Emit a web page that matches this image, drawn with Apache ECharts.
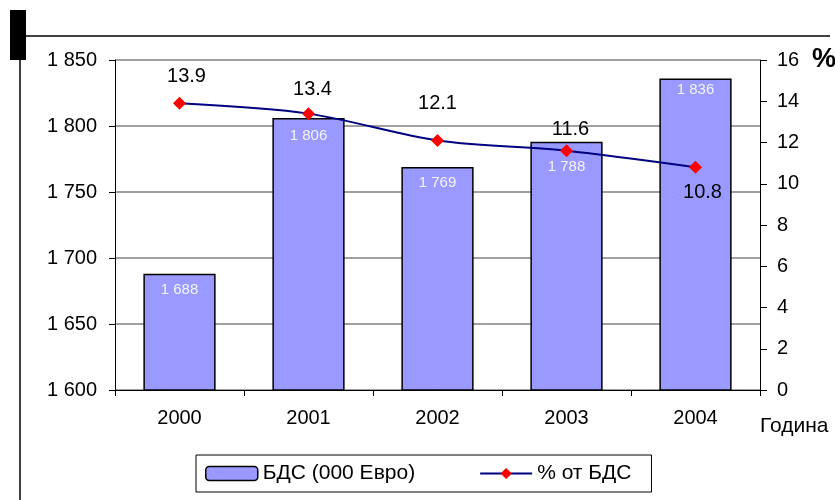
<!DOCTYPE html>
<html>
<head>
<meta charset="utf-8">
<script src="https://cdn.jsdelivr.net/npm/echarts@6/dist/echarts.min.js"></script>
<style>
html,body{margin:0;padding:0;background:#fff;}
#chart{width:835px;height:500px;}
</style>
</head>
<body>
<div id="chart"></div>
<script>
// Data
var years = ['2000', '2001', '2002', '2003', '2004'];
var gdp = [1688, 1806, 1769, 1788, 1836];          // БДС (000 Евро)
var pct = [13.9, 13.4, 12.1, 11.6, 10.8];          // % от БДС
var leftTicks = { min: 1600, max: 1850, interval: 50 };
var rightTicks = { min: 0, max: 16, interval: 2 };
var barName = 'БДС (000 Евро)';
var lineName = '% от БДС';

var FONT = '"Liberation Sans", Arial, sans-serif';

function fmtThousands(v) {
  return String(v).replace(/\B(?=(\d{3})+(?!\d))/g, ' ');
}

// per-point label placement (styling only)
var lineLabelStyle = [
  { position: 'top', distance: 10, offset: [7, 0] },
  { position: 'top', distance: 8, offset: [4, 0] },
  { position: 'top', distance: 20, offset: [0, 0] },
  { position: 'top', distance: 5, offset: [4, 0] },
  { position: 'bottom', distance: 9, offset: [7, 0] }
];
var barLabelStyle = [
  { distance: 9 }, { distance: 10 }, { distance: 8 }, { distance: 18 }, { distance: 4 }
];

var lineData = pct.map(function (v, i) {
  return { value: v, label: lineLabelStyle[i] };
});
var barData = gdp.map(function (v, i) {
  return { value: v, label: barLabelStyle[i] };
});

var chart = echarts.init(document.getElementById('chart'), null, { renderer: 'canvas' });
chart.setOption({
  animation: false,
  backgroundColor: '#fff',
  textStyle: { fontFamily: FONT },
  grid: { left: 115, right: 75, top: 60, bottom: 110, containLabel: false, outerBoundsMode: 'none' },
  legend: {
    left: 196, top: 455,
    padding: [8, 20, 8, 9],
    borderColor: '#000', borderWidth: 1,
    itemWidth: 52, itemHeight: 14, itemGap: 64,
    textStyle: { fontSize: 21, color: '#000', fontFamily: FONT },
    data: [
      { name: barName, itemStyle: { color: '#9999ff', borderColor: '#000', borderWidth: 1.5 } },
      { name: lineName }
    ]
  },
  xAxis: {
    type: 'category',
    data: years,
    axisLine: { lineStyle: { color: '#000', width: 1 } },
    axisTick: { show: true, alignWithLabel: false, inside: false, length: 6, lineStyle: { color: '#000' } },
    axisLabel: { fontSize: 20, color: '#000', margin: 18, fontFamily: FONT },
    name: 'Година',
    nameLocation: 'end',
    nameGap: 0,
    nameTextStyle: { fontSize: 21, color: '#000', fontFamily: FONT, align: 'left', verticalAlign: 'top', padding: [26, 0, 0, 0] }
  },
  yAxis: [
    {
      type: 'value',
      min: leftTicks.min, max: leftTicks.max, interval: leftTicks.interval,
      axisLine: { show: true, lineStyle: { color: '#000' } },
      axisTick: { show: true, length: 6, lineStyle: { color: '#000' } },
      axisLabel: { fontSize: 20, color: '#000', margin: 18, fontFamily: FONT, formatter: fmtThousands },
      splitLine: { show: true, lineStyle: { color: '#808080', width: 1.5 } }
    },
    {
      type: 'value',
      position: 'right',
      min: rightTicks.min, max: rightTicks.max, interval: rightTicks.interval,
      axisLine: { show: true, lineStyle: { color: '#000' } },
      axisTick: { show: true, length: 7, lineStyle: { color: '#000' } },
      axisLabel: { fontSize: 20, color: '#000', margin: 17, fontFamily: FONT },
      splitLine: { show: false },
      name: '%',
      nameLocation: 'end',
      nameGap: 0,
      nameTextStyle: { fontSize: 27, fontWeight: 'bold', color: '#000', fontFamily: FONT, align: 'left', verticalAlign: 'middle', padding: [0, 0, 0, 52] }
    }
  ],
  series: [
    {
      name: barName,
      type: 'bar',
      data: barData,
      yAxisIndex: 0,
      barWidth: '56%',
      itemStyle: { color: '#9999ff', borderColor: '#000', borderWidth: 1.5 },
      label: {
        show: true, position: 'insideTop', distance: 5,
        color: '#f4f4ff', fontSize: 15, fontFamily: FONT,
        formatter: function (p) { return fmtThousands(p.value); }
      },
      z: 2
    },
    {
      name: lineName,
      type: 'line',
      data: lineData,
      yAxisIndex: 1,
      smooth: 0.3,
      symbol: 'diamond',
      symbolSize: 13,
      lineStyle: { color: '#000080', width: 2 },
      itemStyle: { color: '#ff0000' },
      label: { show: true, fontSize: 20, color: '#000', fontFamily: FONT },
      z: 5
    }
  ],
  graphic: [
    { type: 'rect', shape: { x: 10, y: 10, width: 16, height: 50 }, style: { fill: '#000' }, z: 10 },
    { type: 'line', shape: { x1: 20, y1: 55, x2: 20, y2: 500 }, style: { stroke: '#000', lineWidth: 1.5 }, z: 10 },
    { type: 'line', shape: { x1: 26, y1: 36, x2: 830, y2: 36 }, style: { stroke: '#000', lineWidth: 1.5 }, z: 10 }
  ]
});
</script>
</body>
</html>
